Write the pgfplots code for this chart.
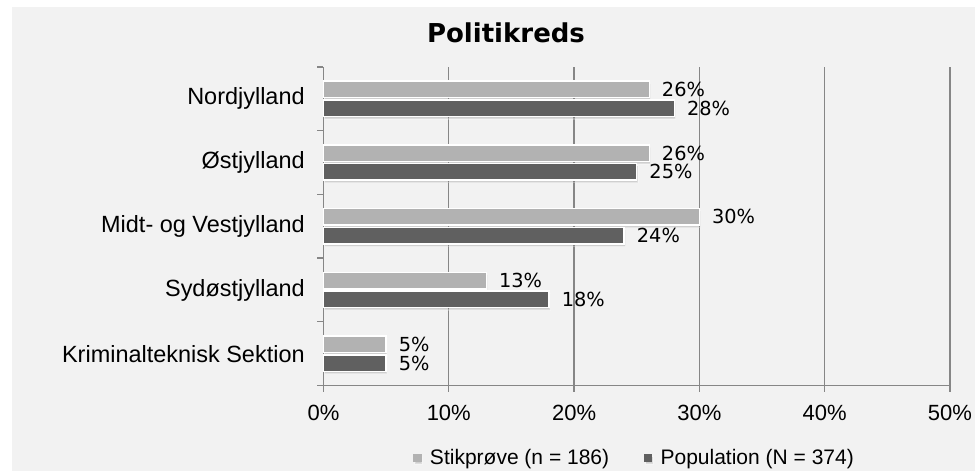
\documentclass[border=0pt]{standalone}
\usepackage{fontspec}
\setmainfont{Liberation Sans}
\newfontfamily\labelfont{DejaVu Sans}
\usepackage{pgfplots}
\pgfplotsset{compat=1.18}
\usetikzlibrary{shadows}

\definecolor{bg}{HTML}{F2F2F2}
\definecolor{axisgray}{HTML}{868686}
\definecolor{lightbar}{HTML}{B2B2B2}
\definecolor{darkbar}{HTML}{606060}

% 1px of the reference = 0.75pt
\begin{document}
\begin{tikzpicture}
\useasboundingbox (0,0) rectangle (731.25pt,353.25pt);
\fill[white] (0,0) rectangle (731.25pt,353.25pt);
\fill[bg] (9pt,0) rectangle (731.25pt,348pt);

\node[font=\labelfont\bfseries\fontsize{19.5}{22}\selectfont] at (379.5pt,328.5pt) {Politikreds};

\begin{axis}[
    at={(242.6pt,64.1pt)}, anchor=south west,
    scale only axis,
    width=469.9pt, height=238.9pt,
    xbar, bar width=12.4pt,
    xmin=0, xmax=50,
    ymin=-0.5, ymax=4.5,
    xtick={0,10,...,50},
    xticklabels={0\%,10\%,20\%,30\%,40\%,50\%},
    xmajorgrids,
    grid style={draw=axisgray, line width=1pt},
    axis x line*=bottom, axis y line*=left,
    axis line style={draw=axisgray, line width=1pt, -},
    tick align=outside,
    major tick length=4.8pt,
    tick style={draw=axisgray, line width=1pt},
    ytick={-0.5,0.5,...,4.5},
    yticklabels={},
    extra y ticks={0,1,2,3,4},
    extra y tick labels={Kriminalteknisk Sektion, Sydøstjylland, Midt- og Vestjylland, Østjylland, Nordjylland},
    extra y tick style={major tick length=0pt,
        yticklabel style={anchor=east, inner sep=0pt, xshift=-13.9pt,
            font=\fontsize{17.6}{20}\selectfont}},
    xticklabel style={anchor=north, inner sep=0pt, yshift=-9.5pt,
        font=\fontsize{16.5}{19}\selectfont},
    point meta=x,
    /pgf/number format/assume math mode=true,
    nodes near coords={\pgfmathprintnumber{\pgfplotspointmeta}\%},
    every node near coord/.append style={anchor=west, inner sep=0pt, xshift=9pt,
        text=black, font=\labelfont\fontsize{14.5}{16}\selectfont},
    legend style={at={(0.497,-0.2276)}, anchor=center, draw=none, fill=none,
        legend columns=2, font=\fontsize{15.75}{18}\selectfont,
        /tikz/every even column/.append style={column sep=24pt}},
    clip=false,
]
\addplot[fill=lightbar, draw=white, line width=1.1pt, bar shift=7.05pt,
    drop shadow={shadow xshift=0.8pt, shadow yshift=-1.8pt, opacity=0.3},
    legend image code/.code={\fill[lightbar] (0pt,-2.7pt) rectangle (5.4pt,2.7pt); \path (9.5pt,0pt);}]
    coordinates {(5,0) (13,1) (30,2) (26,3) (26,4)};
\addlegendentry{Stikprøve (n = 186)}
\addplot[fill=darkbar, draw=white, line width=1.1pt, bar shift=-7.05pt,
    drop shadow={shadow xshift=0.8pt, shadow yshift=-1.8pt, opacity=0.3},
    legend image code/.code={\fill[darkbar] (0pt,-2.7pt) rectangle (5.4pt,2.7pt); \path (9.5pt,0pt);}]
    coordinates {(5,0) (18,1) (24,2) (25,3) (28,4)};
\addlegendentry{Population (N = 374)}
\end{axis}
\end{tikzpicture}
\end{document}
